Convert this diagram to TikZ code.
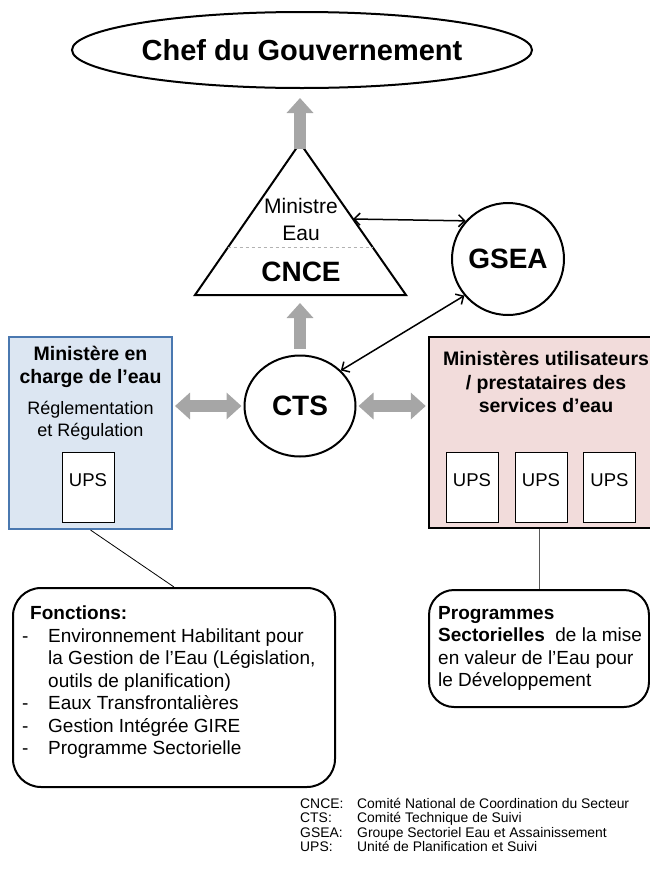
\documentclass[tikz,border=0pt]{standalone}
\usepackage{fontspec}
\setmainfont{Liberation Sans}
\usetikzlibrary{shapes.geometric,arrows.meta,calc}
\definecolor{bluefill}{HTML}{DCE6F2}
\definecolor{blueline}{HTML}{4A78B0}
\definecolor{pinkfill}{HTML}{F2DCDB}
\definecolor{arrowgray}{HTML}{A6A6A6}

\begin{document}
\begin{tikzpicture}[x=1pt, y=-1pt,
  bigtxt/.style={font=\bfseries\fontsize{28}{32}\selectfont},
  boxtitle/.style={font=\bfseries\fontsize{19.5}{23.5}\selectfont, align=center},
  ups/.style={draw, fill=white, line width=0.8pt, minimum width=52pt, minimum height=70pt, inner sep=0pt, text depth=14pt, font=\fontsize{18.5}{22}\selectfont},
  callout/.style={shape=rectangle, draw, line width=2pt, rounded corners=28pt},
  bodytxt/.style={anchor=north west, align=left, inner sep=0pt, font=\fontsize{19}{22.5}\selectfont},
  grayarrow/.style={draw=arrowgray, line width=12pt, -{Triangle[width=26pt,length=15pt]}},
  graydouble/.style={draw=arrowgray, line width=12pt, {Triangle[width=26pt,length=15pt]}-{Triangle[width=26pt,length=15pt]}},
  link/.style={line width=1.5pt, {Straight Barb[length=6pt,width=12pt]}-{Straight Barb[length=6pt,width=12pt]}}]
\useasboundingbox (0,0) rectangle (650,876);

% top
\node[shape=ellipse, draw, line width=2pt, minimum width=460pt, minimum height=76pt, inner sep=0pt, font=\bfseries\fontsize{29}{34}\selectfont] (chef) at (302,50) {Chef du Gouvernement};

% ministre / CNCE triangle
\coordinate (apex) at (300,143);
\coordinate (bl) at (195,295);
\coordinate (br) at (406,295);
\coordinate (base) at (300,295);
\draw[line width=2pt, line join=miter] (bl) -- (apex) -- (br) -- cycle;
\draw[dashed, gray!60, line width=0.8pt] ($(apex)!0.69!(bl)$) -- ($(apex)!0.69!(br)$);
\node[font=\fontsize{21}{27}\selectfont, align=center] (ministre) at (301,219) {Ministre\\Eau};
\node[bigtxt] (cnce) at (301,272) {CNCE};

\node[shape=circle, draw, line width=2pt, minimum size=112pt, bigtxt] (gsea) at (508,259) {GSEA};
\node[shape=ellipse, draw, line width=2pt, minimum width=111pt, minimum height=101pt, bigtxt] (cts) at (300,406) {CTS};

% ministere en charge de l'eau
\node[draw=blueline, fill=bluefill, line width=2pt, minimum width=163pt, minimum height=192pt] (minist) at (90.5,433) {};
\node[boxtitle] (ministtitle) at (90.5,367) {Ministère en\\charge de l’eau};
\node[font=\fontsize{18}{22}\selectfont, align=center] (regl) at (90.5,421) {Réglementation\\et Régulation};
\node[ups] (ups0) at (88,487) {UPS};

% ministeres utilisateurs
\node[draw, fill=pinkfill, line width=2.5pt, minimum width=234pt, minimum height=191pt] (users) at (546,432.5) {};
\node[boxtitle] (userstitle) at (546,382) {Ministères utilisateurs\\/ prestataires des\\services d’eau};
\node[ups] (ups1) at (472,487.5) {UPS};
\node[ups] (ups2) at (541,487.5) {UPS};
\node[ups] (ups3) at (609.5,487.5) {UPS};

% gray arrows
\draw[grayarrow, shorten <=-6pt, shorten >=9pt] (apex) -- (apex |- chef.south);
\draw[grayarrow, shorten <=6pt, shorten >=8pt] (cts) -- (base);
\draw[graydouble, shorten <=2pt, shorten >=2pt] (cts.west -| minist.east) -- (cts.west);
\draw[graydouble, shorten <=2pt, shorten >=2pt] (cts.east) -- (cts.east -| users.west);

% black arrows
\draw[link] ($(apex)!0.5!(br)$) -- (gsea.138);
\draw[link] (gsea.220) -- (cts.41);

% callouts
\node[callout, minimum width=322pt, minimum height=199pt] (fonctions) at (174,687.5) {};
\node[bodytxt] (fonctlist) at (22,606) {\hspace*{8pt}\textbf{Fonctions:}\\
\makebox[26pt][l]{-}Environnement Habilitant pour\\
\hspace*{26pt}la Gestion de l’Eau (Législation,\\
\hspace*{26pt}outils de planification)\\
\makebox[26pt][l]{-}Eaux Transfrontalières\\
\makebox[26pt][l]{-}Gestion Intégrée GIRE\\
\makebox[26pt][l]{-}Programme Sectorielle};
\draw[line width=0.8pt] (minist.south) -- (fonctions.north);

\node[callout, rounded corners=25pt, minimum width=220pt, minimum height=117pt] (prog) at (539,648.5) {};
\node[bodytxt] (progtext) at (438,606) {\textbf{Programmes}\\
\textbf{Sectorielles}\ \ de la mise\\
en valeur de l’Eau pour\\
le Développement};
\draw[line width=0.8pt, black!65] (prog.north) -- (prog.north |- users.south);

% legend
\node[anchor=north west, align=left, inner sep=0pt, font=\fontsize{13.9}{14.4}\selectfont] (legend) at (300,798) {\makebox[57pt][l]{CNCE:}Comité National de Coordination du Secteur\\
\makebox[57pt][l]{CTS:}Comité Technique de Suivi\\
\makebox[57pt][l]{GSEA:}Groupe Sectoriel Eau et Assainissement\\
\makebox[57pt][l]{UPS:}Unité de Planification et Suivi};
\end{tikzpicture}
\end{document}
